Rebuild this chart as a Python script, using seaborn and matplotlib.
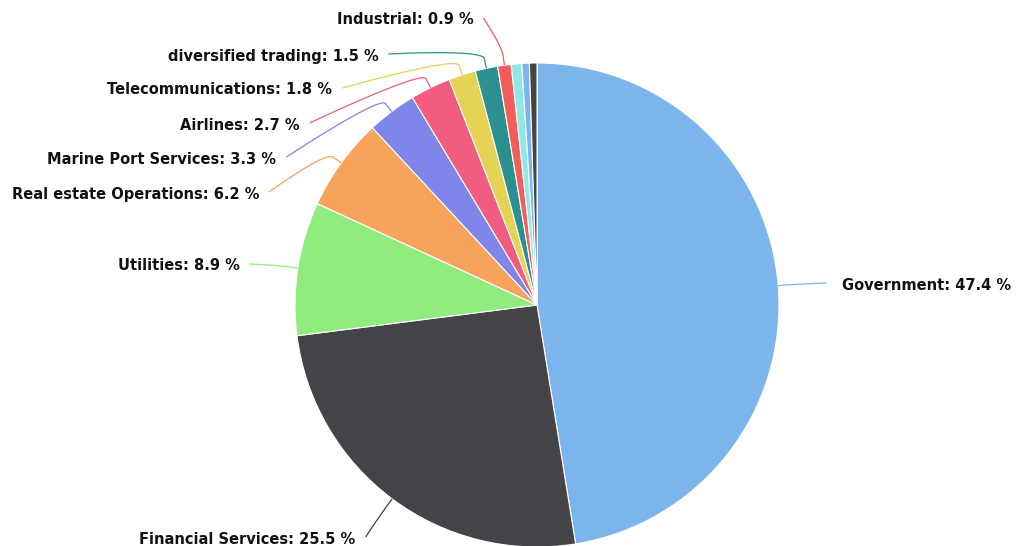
import numpy as np
import matplotlib.pyplot as plt
from matplotlib.path import Path
from matplotlib.patches import PathPatch
import seaborn as sns

# slice data, clockwise from 12 o'clock
categories = ["Government", "Financial Services", "Utilities", "Real estate Operations",
              "Marine Port Services", "Airlines", "Telecommunications", "diversified trading",
              "Industrial", "Other A", "Other B", "Other C"]
shares = [47.4, 25.5, 8.9, 6.2, 3.3, 2.7, 1.8, 1.5, 0.9, 0.7, 0.5, 0.5]
colors = ["#7cb5ec", "#434348", "#90ed7d", "#f7a35c", "#8085e9", "#f15c80",
          "#e4d354", "#2b908f", "#f45b5b", "#91e8e1", "#7cb5ec", "#434348"]

# label layout (vertical position of each shown label, pixels from top)
label_y = {"Government": 285, "Financial Services": 539, "Utilities": 266,
           "Real estate Operations": 194, "Marine Port Services": 159,
           "Airlines": 125, "Telecommunications": 90, "diversified trading": 56,
           "Industrial": 20}

W, H = 1016, 546
cx, cy, r = 537, 305, 242
R_label = 290

sns.set_theme(style="white")
plt.rcParams['font.family'] = ['DejaVu Sans']

fig = plt.figure(figsize=(W / 100, H / 100), dpi=100)
ax = fig.add_axes([0, 0, 1, 1])

wedges, _ = ax.pie(shares, colors=sns.color_palette(colors), startangle=-90,
                   counterclock=True, center=(cx, cy), radius=r,
                   wedgeprops=dict(edgecolor="white", linewidth=0.8))

ax.set_xlim(0, W)
ax.set_ylim(H, 0)
ax.set_aspect("equal")
ax.axis("off")

for w, name, val, col in zip(wedges, categories, shares, colors):
    if name not in label_y:
        continue
    tm = np.deg2rad((w.theta1 + w.theta2) / 2)
    tx, ty = cx + r * np.cos(tm), cy + r * np.sin(tm)
    bx, by = cx + (r + 10) * np.cos(tm), cy + (r + 10) * np.sin(tm)
    ly = label_y[name]
    left = np.cos(tm) < 0
    dx = np.sqrt(max(R_label ** 2 - (ly - cy) ** 2, 0))
    lx = cx - dx if left else cx + dx
    verts = [(lx, ly - 2), (lx, ly - 2), (2 * bx - tx, 2 * by - ty), (bx, by), (tx, ty)]
    codes = [Path.MOVETO, Path.CURVE4, Path.CURVE4, Path.CURVE4, Path.LINETO]
    ax.add_patch(PathPatch(Path(verts, codes), fill=False, edgecolor=col, lw=0.9))
    ax.text(lx - 10 if left else lx + 16, ly, f"{name}: {val} %",
            ha="right" if left else "left", va="center",
            fontsize=10.5, fontweight="bold", color="#111111")

fig.savefig("out.png", dpi=100)
